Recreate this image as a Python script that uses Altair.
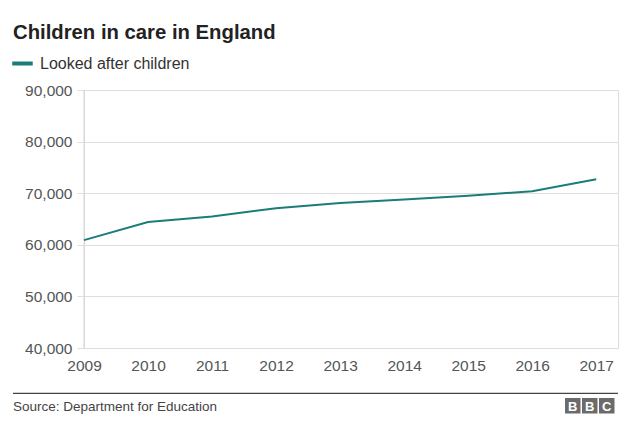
import altair as alt
import pandas as pd

years = [2009, 2010, 2011, 2012, 2013, 2014, 2015, 2016, 2017]
looked_after = [60900, 64400, 65500, 67100, 68100, 68800, 69500, 70400, 72700]
series_name = "Looked after children"
y_ticks = [40000, 50000, 60000, 70000, 80000, 90000]
title_text = "Children in care in England"
source_text = "Source: Department for Education"
logo_letters = ["B", "B", "C"]

FONT = "Liberation Sans"
TEAL = "#1a7d77"

df = pd.DataFrame({"year": years, "value": looked_after, "series": series_name})

W, H = 534, 258

line = alt.Chart(df).mark_line(strokeWidth=2).encode(
    x=alt.X("year:Q",
            scale=alt.Scale(domain=[2009, 2017.34], nice=False, zero=False),
            axis=alt.Axis(values=years, format="d", title=None, grid=False, domain=False,
                          ticks=False, labelPadding=10, labelFontSize=15.5,
                          labelColor="#555", labelFont=FONT, labelAlign="center")),
    y=alt.Y("value:Q",
            scale=alt.Scale(domain=[40000, 90000], nice=False, zero=False),
            axis=alt.Axis(values=y_ticks, format=",.0f", title=None, grid=True,
                          gridColor="#dedede", domain=False, ticks=True, tickSize=7,
                          tickColor="#dedede", labelPadding=5, labelFontSize=15.5,
                          labelColor="#555", labelFont=FONT)),
    color=alt.Color("series:N",
                    scale=alt.Scale(range=[TEAL]),
                    legend=alt.Legend(title=None, orient="none", legendX=-74, legendY=-39,
                                      symbolType="stroke", symbolStrokeWidth=4,
                                      symbolSize=420, labelFontSize=16, labelFont=FONT,
                                      labelColor="#333", labelOffset=5, padding=0)),
)

one = pd.DataFrame({"v": [0]})

axis_line = alt.Chart(one).mark_rule(color="#d6d6d6", strokeWidth=1).encode(
    x=alt.value(0), y=alt.value(0), y2=alt.value(H)
)

title = alt.Chart(pd.DataFrame({"t": [title_text]})).mark_text(
    align="left", baseline="alphabetic", fontSize=20.3, fontWeight="bold",
    font=FONT, color="#222"
).encode(x=alt.value(-71), y=alt.value(-51.5), text="t:N")

source = alt.Chart(pd.DataFrame({"t": [source_text]})).mark_text(
    align="left", baseline="alphabetic", fontSize=13.5, font=FONT, color="#444"
).encode(x=alt.value(-71), y=alt.value(320.7), text="t:N")

footer_rule = alt.Chart(one).mark_rule(color="#444", strokeWidth=1.3).encode(
    x=alt.value(-71), x2=alt.value(W), y=alt.value(303.3)
)

layers = [axis_line, line, title, source, footer_rule]

box_left = [481, 498, 515]
for i, letter in enumerate(logo_letters):
    x0 = box_left[i]
    layers.append(
        alt.Chart(one).mark_rect(color="#6b6b6b").encode(
            x=alt.value(x0), x2=alt.value(x0 + 15.5),
            y=alt.value(308), y2=alt.value(323.5))
    )
    layers.append(
        alt.Chart(pd.DataFrame({"t": [letter]})).mark_text(
            align="center", baseline="alphabetic", fontSize=13, fontWeight="bold",
            font=FONT, color="white"
        ).encode(x=alt.value(x0 + 7.75), y=alt.value(320.5), text="t:N")
    )

chart = alt.layer(*layers).properties(
    width=W, height=H,
    autosize=alt.AutoSizeParams(type="none"),
    padding={"left": 76, "top": 82, "right": 14, "bottom": 72},
).configure_view(stroke=None).configure(background="white")

chart.save("out.html", embed_options={"renderer": "svg", "actions": False})
